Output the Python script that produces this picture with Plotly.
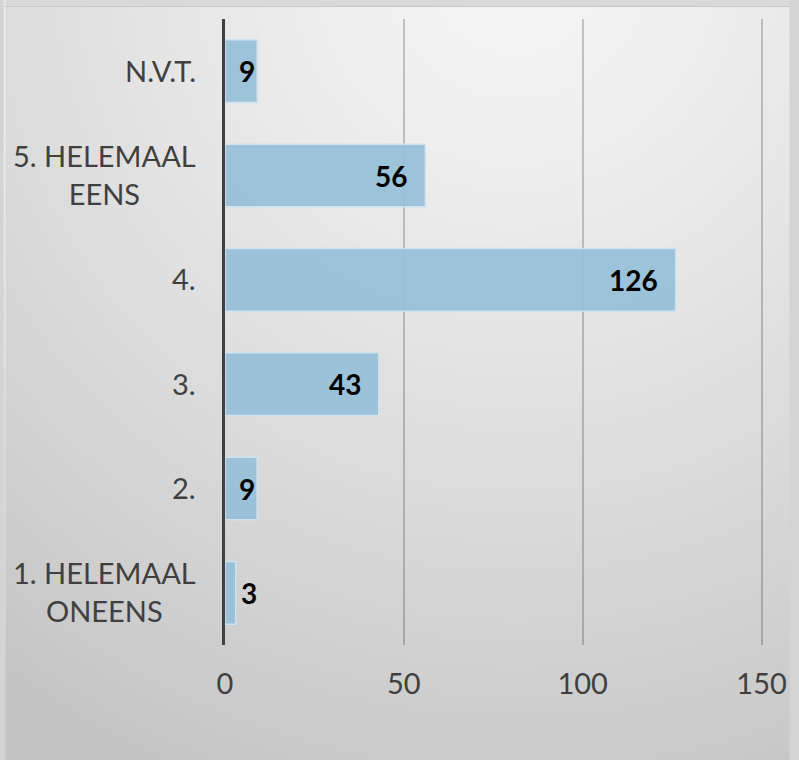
import base64
import struct
import zlib

import numpy as np
import plotly.graph_objects as go

# ---- data ----
categories = ["1. HELEMAAL<br>ONEENS", "2.", "3.", "4.", "5. HELEMAAL<br>EENS", "N.V.T."]
values = [3, 9, 43, 126, 56, 9]
x_ticks = [0, 50, 100, 150]
x_tick_labels = ["0", "50", "100", "150"]

# ---- layout constants ----
W, H = 799, 760
ML, MR, MT, MB = 225, 27, 19, 115
PW, PH = W - ML - MR, H - MT - MB
FONT = "Lato, 'Open Sans', sans-serif"
TXT = "#404040"


def make_bg_png():
    yy, xx = np.mgrid[0:H, 0:W].astype(float)
    cx, cy = 520.0, -40.0
    d = np.sqrt((xx - cx) ** 2 + (yy - cy) ** 2) / 900.0
    d = np.clip(d, 0, 1) ** 1.25
    c = 246 - (246 - 196) * d
    c[0:6, :] = 217
    c[6:7, :] = 200
    c[:, 0:2] = np.minimum(c[:, 0:2] + 14, 235)
    img = np.repeat(np.clip(c, 0, 255).astype(np.uint8)[:, :, None], 3, axis=2)
    raw = b"".join(b"\x00" + row.tobytes() for row in img)

    def chunk(tag, data):
        return (struct.pack(">I", len(data)) + tag + data
                + struct.pack(">I", zlib.crc32(tag + data) & 0xffffffff))

    png = (b"\x89PNG\r\n\x1a\n"
           + chunk(b"IHDR", struct.pack(">IIBBBBB", W, H, 8, 2, 0, 0, 0))
           + chunk(b"IDAT", zlib.compress(raw, 9))
           + chunk(b"IEND", b""))
    return "data:image/png;base64," + base64.b64encode(png).decode()


positions = list(range(len(categories)))

fig = go.Figure()
fig.add_trace(go.Bar(
    y=positions, x=values, orientation="h",
    marker=dict(color="rgba(150,192,216,0.93)",
                line=dict(color="#cfe2ee", width=1.5)),
    hoverinfo="skip",
))

annotations = []
# category labels (centered multi-line, right aligned block)
for pos, cat in zip(positions, categories):
    annotations.append(dict(
        x=0, xref="paper", y=pos, yref="y", xanchor="right", yanchor="middle",
        xshift=-27, yshift=1, text=cat, showarrow=False, align="center",
        font=dict(family=FONT, size=29, color=TXT),
    ))
# value labels
for pos, v in zip(positions, values):
    inside = v >= 5
    shift = -16 if v >= 20 else (0 if inside else 3)
    annotations.append(dict(
        x=v, xref="x", y=pos, yref="y",
        xanchor="right" if inside else "left", yanchor="middle",
        xshift=shift, text="<b>%d</b>" % v, showarrow=False,
        font=dict(family=FONT, size=28, color="#000000"),
    ))

fig.update_layout(
    width=W, height=H,
    margin=dict(l=ML, r=MR, t=MT, b=MB, pad=0),
    paper_bgcolor="#d4d4d4", plot_bgcolor="rgba(0,0,0,0)",
    bargap=0.4, showlegend=False,
    font=dict(family=FONT, color=TXT),
    annotations=annotations,
    images=[dict(
        source=make_bg_png(), xref="paper", yref="paper",
        x=-ML / PW, y=1 + MT / PH, sizex=W / PW, sizey=H / PH,
        xanchor="left", yanchor="top", sizing="stretch", layer="below",
    )],
    xaxis=dict(
        range=[0, 150.4], tickvals=x_ticks, ticktext=x_tick_labels,
        showgrid=True, gridcolor="rgba(0,0,0,0.2)", gridwidth=2,
        zeroline=False, showline=False, ticks="",
        ticklabelstandoff=19,
        tickfont=dict(family=FONT, size=29, color=TXT),
        fixedrange=True,
    ),
    yaxis=dict(
        range=[-0.5, len(categories) - 0.5],
        showticklabels=False, ticks="", showgrid=False, zeroline=False,
        showline=True, linecolor="#404040", linewidth=3,
        fixedrange=True,
    ),
)

fig.write_html("out.html", config={"displayModeBar": False},
               post_script="document.body.style.margin='0';")
